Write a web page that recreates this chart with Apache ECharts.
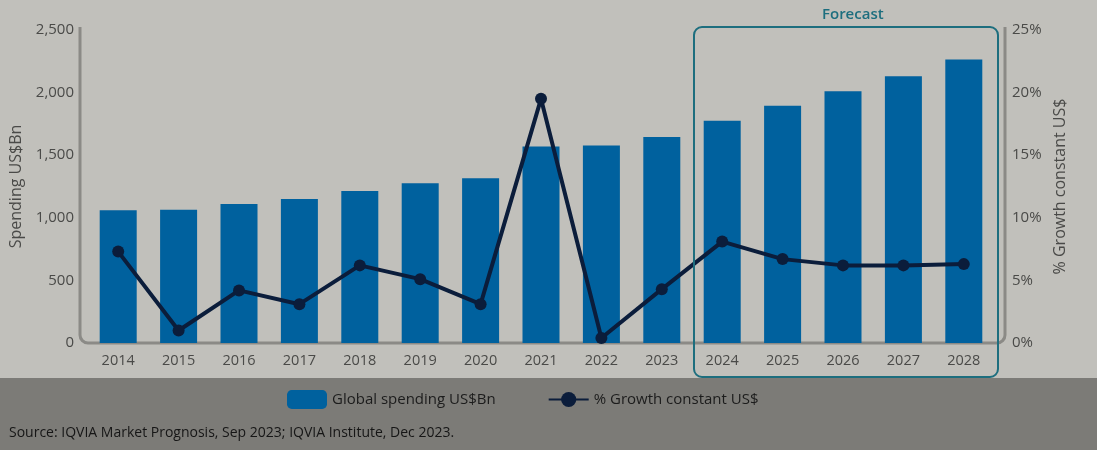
<!DOCTYPE html>
<html><head><meta charset="utf-8">
<script src="https://cdn.jsdelivr.net/npm/echarts@6/dist/echarts.min.js"></script>
<style>html,body{margin:0;padding:0;background:#c1c0bb;}#c{width:1097px;height:450px;}</style>
</head><body><div id="c"></div>
<script>
const years = ['2014','2015','2016','2017','2018','2019','2020','2021','2022','2023','2024','2025','2026','2027','2028'];
const spending = [1060, 1065, 1110, 1150, 1215, 1275, 1315, 1570, 1578, 1645, 1775, 1895, 2010, 2130, 2265];
const growth = [7.3, 1.0, 4.2, 3.1, 6.2, 5.1, 3.1, 19.5, 0.4, 4.3, 8.1, 6.7, 6.2, 6.2, 6.3];
const leftTicks = [0, 500, 1000, 1500, 2000, 2500];
const rightTicks = [0, 5, 10, 15, 20, 25];
const legendNames = ['Global spending US$Bn', '% Growth constant US$'];
const sourceText = 'Source: IQVIA Market Prognosis, Sep 2023; IQVIA Institute, Dec 2023.';
const forecastLabel = 'Forecast';

const FONT = '"Open Sans", "Noto Sans", sans-serif';
const TXT = '#4a4a48';
const AX = {stroke: '#8b8a86', lineWidth: 3, fill: null};
const chart = echarts.init(document.getElementById('c'), null, {renderer: 'canvas'});
chart.setOption({
  backgroundColor: 'transparent',
  animation: false,
  textStyle: {fontFamily: FONT},
  grid: {left: 88, right: 103, top: 30, bottom: 107},
  legend: {
    bottom: 36, left: 282, itemGap: 52, itemWidth: 40, itemHeight: 19,
    textStyle: {fontFamily: FONT, fontSize: 15, color: '#1c1c1c'},
    data: [
      {name: legendNames[0], icon: 'roundRect'},
      {name: legendNames[1], itemStyle: {borderWidth: 0}}
    ]
  },
  xAxis: {
    type: 'category', data: years,
    axisLine: {show: false}, axisTick: {show: false},
    axisLabel: {color: TXT, fontSize: 14.5, margin: 10, fontFamily: FONT}
  },
  yAxis: [
    {
      type: 'value', min: leftTicks[0], max: leftTicks[leftTicks.length-1], interval: 500,
      offset: 8, splitLine: {show: false}, axisLine: {show: false}, axisTick: {show: false},
      axisLabel: {color: TXT, fontSize: 15, margin: 6, fontFamily: FONT,
        formatter: v => v.toLocaleString('en-US')},
      name: 'Spending US$Bn', nameLocation: 'middle', nameGap: 54, nameRotate: 90,
      nameTextStyle: {color: TXT, fontSize: 16, fontFamily: FONT}
    },
    {
      type: 'value', min: rightTicks[0], max: rightTicks[rightTicks.length-1], interval: 5,
      offset: 11, position: 'right', splitLine: {show: false}, axisLine: {show: false}, axisTick: {show: false},
      axisLabel: {color: TXT, fontSize: 15, margin: 7, fontFamily: FONT, formatter: '{value}%'},
      name: '% Growth constant US$', nameLocation: 'middle', nameGap: 44, nameRotate: 90,
      nameTextStyle: {color: TXT, fontSize: 16, fontFamily: FONT}
    }
  ],
  series: [
    {
      name: legendNames[0], type: 'bar', data: spending, barWidth: 37,
      itemStyle: {color: '#00619e'}, z: 2
    },
    {
      name: legendNames[1], type: 'line', yAxisIndex: 1, data: growth,
      lineStyle: {color: '#0b1d3b', width: 4}, itemStyle: {color: '#0b1d3b'},
      symbol: 'circle', symbolSize: 12, z: 5
    }
  ],
  graphic: [
    {type: 'rect', z: -10, silent: true, shape: {x: 0, y: 378, width: 1097, height: 72}, style: {fill: '#7c7b77'}},
    {type: 'polyline', z: -1, silent: true, shape: {points: [[80,27],[80,335]]}, style: AX},
    {type: 'polyline', z: -1, silent: true, shape: {points: [[88,343],[997,343]]}, style: AX},
    {type: 'polyline', z: -1, silent: true, shape: {points: [[1005,27],[1005,335]]}, style: AX},
    {type: 'arc', z: -1, silent: true, shape: {cx: 88, cy: 335, r: 8, startAngle: Math.PI/2, endAngle: Math.PI}, style: AX},
    {type: 'arc', z: -1, silent: true, shape: {cx: 997, cy: 335, r: 8, startAngle: 0, endAngle: Math.PI/2}, style: AX},
    {type: 'rect', z: 10, silent: true, shape: {x: 694, y: 27, width: 304, height: 350, r: 8},
      style: {stroke: '#1d6e7e', lineWidth: 2, fill: null}},
    {type: 'text', z: 10, left: 822, top: 7, style: {text: forecastLabel, fill: '#1d6e7e', font: '600 15px ' + FONT}},
    {type: 'text', z: 10, left: 9, top: 426, style: {text: sourceText, fill: '#161616', font: '14px ' + FONT}}
  ]
});
</script>
</body></html>
